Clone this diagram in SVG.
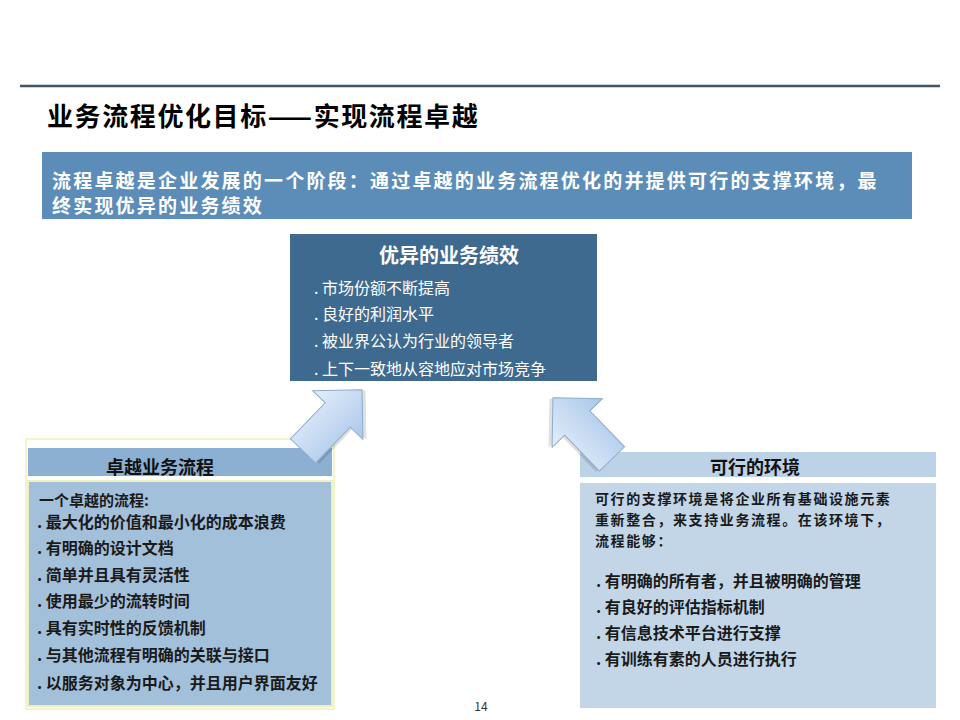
<svg xmlns="http://www.w3.org/2000/svg" width="960" height="720" viewBox="0 0 960 720">
  <defs>
    <style>
      text { font-family: "Noto Sans CJK SC", "Liberation Sans", sans-serif; }
      .title { font-size: 26px; font-weight: bold; fill: #000; letter-spacing: 1.6px; }
      .banner { font-size: 19px; font-weight: bold; fill: #fff; letter-spacing: 2.2px; }
      .ptitle { font-size: 20px; font-weight: bold; fill: #fff; }
      .pitem { font-size: 16px; fill: #fff; }
      .hdr { font-size: 18px; font-weight: bold; fill: #111; }
      .body { font-size: 15px; font-weight: bold; fill: #1a1a1a; }
      .rbody { font-size: 14px; font-weight: bold; fill: #1a1a1a; letter-spacing: 1.6px; }
      .item { font-size: 16px; font-weight: bold; fill: #1a1a1a; }
      .arrow { fill: url(#arrowGrad); stroke: #8eabcc; stroke-width: 1; }
      .shadow { fill: #000; opacity: 0.12; }
    </style>
    <linearGradient id="arrowGrad" x1="0" y1="0" x2="0" y2="1">
      <stop offset="0" stop-color="#e4eefa"/>
      <stop offset="1" stop-color="#a9c7ea"/>
    </linearGradient>
  </defs>

  <rect x="0" y="0" width="960" height="720" fill="#fff"/>

  <g id="header">
    <line x1="20" y1="86" x2="940" y2="86" stroke="#3f5566" stroke-width="2.5"/>
    <text class="title" x="47" y="126">业务流程优化目标——实现流程卓越</text>
  </g>

  <g id="banner">
    <rect x="42" y="152" width="870" height="67" fill="#5b8db8"/>
    <text class="banner"><tspan x="52" y="188">流程卓越是企业发展的一个阶段：通过卓越的业务流程优化的并提供可行的支撑环境，最</tspan><tspan x="52" y="213">终实现优异的业务绩效</tspan></text>
  </g>

  <g id="node-performance">
    <rect x="290" y="234" width="307" height="147" fill="#3f6a8f"/>
    <text class="ptitle" x="449" y="263" text-anchor="middle">优异的业务绩效</text>
    <text class="pitem" x="314" y="294">. 市场份额不断提高</text>
    <text class="pitem" x="314" y="320">.  良好的利润水平</text>
    <text class="pitem" x="314" y="347">. 被业界公认为行业的领导者</text>
    <text class="pitem" x="314" y="375">. 上下一致地从容地应对市场竞争</text>
  </g>

  <g id="node-process">
    <rect x="26" y="439" width="308" height="270" fill="none" stroke="#f4f4cc" stroke-width="2"/>
    <rect x="28" y="448" width="304" height="28" fill="#8cb0d1"/>
    <text class="hdr" x="160" y="474" text-anchor="middle">卓越业务流程</text>
    <rect x="28" y="481" width="304" height="225" fill="#a3c0da" stroke="#eef0c4" stroke-width="2"/>
    <text class="body" x="39" y="506">一个卓越的流程:</text>
    <text class="item" x="37" y="528">. 最大化的价值和最小化的成本浪费</text>
    <text class="item" x="37" y="554">. 有明确的设计文档</text>
    <text class="item" x="37" y="581">. 简单并且具有灵活性</text>
    <text class="item" x="37" y="607">. 使用最少的流转时间</text>
    <text class="item" x="37" y="634">. 具有实时性的反馈机制</text>
    <text class="item" x="37" y="661">. 与其他流程有明确的关联与接口</text>
    <text class="item" x="37" y="689">. 以服务对象为中心，并且用户界面友好</text>
  </g>

  <g id="node-environment">
    <rect x="580" y="452" width="356" height="25" fill="#bcd2e6"/>
    <text class="hdr" x="755" y="474" text-anchor="middle">可行的环境</text>
    <rect x="580" y="483" width="356" height="225" fill="#c2d6e8"/>
    <text class="rbody"><tspan x="595" y="504">可行的支撑环境是将企业所有基础设施元素</tspan><tspan x="595" y="525">重新整合，来支持业务流程。在该环境下，</tspan><tspan x="595" y="546">流程能够：</tspan></text>
    <text class="item" x="596" y="587">. 有明确的所有者，并且被明确的管理</text>
    <text class="item" x="596" y="613">. 有良好的评估指标机制</text>
    <text class="item" x="596" y="639">. 有信息技术平台进行支撑</text>
    <text class="item" x="596" y="665">. 有训练有素的人员进行执行</text>
  </g>

  <g id="connectors">
    <g transform="translate(303,451) rotate(-46)">
      <polygon class="shadow" transform="translate(2,3)" points="0,-17.5 50,-17.5 50,-35 85,0 50,35 50,17.5 0,17.5"/>
      <polygon class="arrow" points="0,-17.5 50,-17.5 50,-35 85,0 50,35 50,17.5 0,17.5"/>
    </g>
    <g transform="translate(612,459) rotate(-134)">
      <polygon class="shadow" transform="translate(2,-3)" points="0,-17.5 50,-17.5 50,-35 85,0 50,35 50,17.5 0,17.5"/>
      <polygon class="arrow" points="0,-17.5 50,-17.5 50,-35 85,0 50,35 50,17.5 0,17.5"/>
    </g>
  </g>

  <text x="481" y="711" text-anchor="middle" font-family="Liberation Sans, sans-serif" font-size="12" fill="#333">14</text>
</svg>
